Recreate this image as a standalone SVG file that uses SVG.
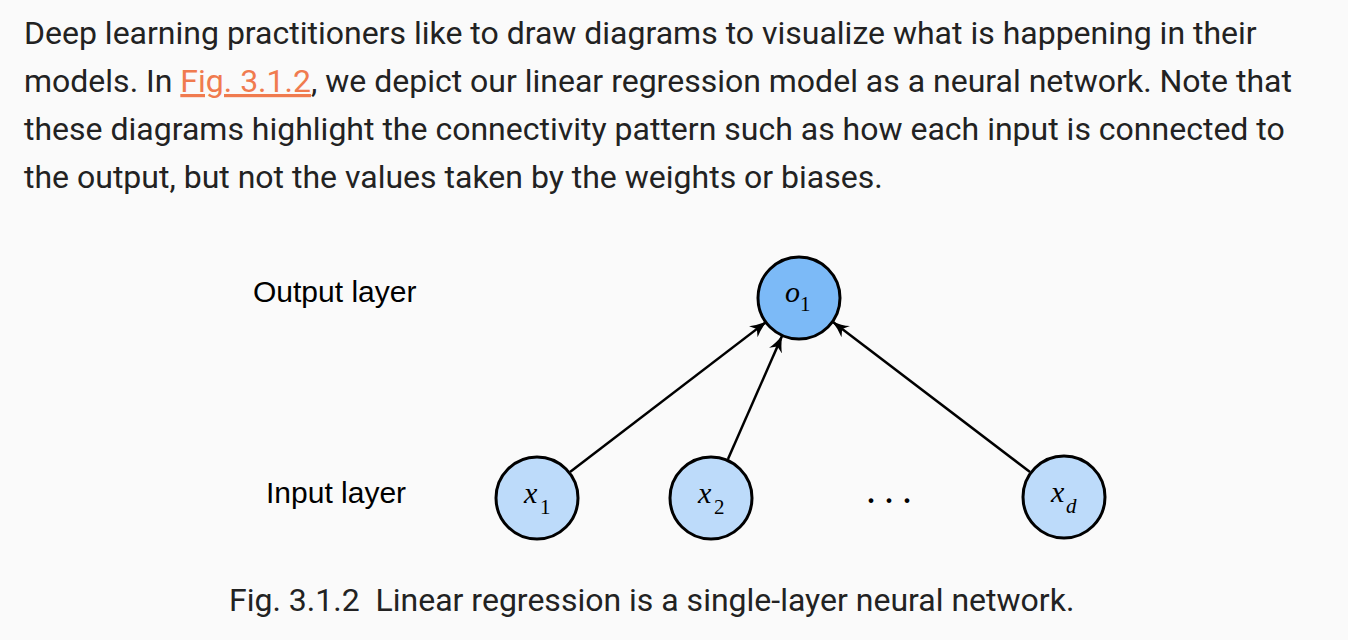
<svg xmlns="http://www.w3.org/2000/svg" width="1348" height="640" viewBox="0 0 1348 640">
<defs>
<style>
.para{font-family:Roboto,"Liberation Sans",sans-serif;font-size:32px;fill:#222222}
.link{fill:#f07b4f}
.lbl{font-family:"Liberation Sans",Arial,sans-serif;font-size:30px;fill:#000000}
.math{font-family:"Liberation Serif","Times New Roman",serif;font-style:italic;font-size:30px;fill:#000000}
.sub{font-family:"Liberation Serif","Times New Roman",serif;font-size:21px;fill:#000000}
.subi{font-family:"Liberation Serif","Times New Roman",serif;font-style:italic;font-size:21px;fill:#000000}
.dots{font-family:"Liberation Serif","Times New Roman",serif;font-size:40px;letter-spacing:8px;fill:#000000}
.out{fill:#7cbaf7;stroke:#000000;stroke-width:3}
.in{fill:#bddbfa;stroke:#000000;stroke-width:3}
.edge{stroke:#000000;stroke-width:2.5;fill:none;marker-end:url(#arrow)}
.cap{font-family:Roboto,"Liberation Sans",sans-serif;font-size:32px;fill:#222222;white-space:pre}
</style>
<marker id="arrow" viewBox="0 0 17 14" refX="16" refY="7" markerWidth="17" markerHeight="14" markerUnits="userSpaceOnUse" orient="auto">
<path d="M0,0 Q7,4.5 17,7 Q7,9.5 0,14 L4.5,7 Z" fill="#000000"/>
</marker>
</defs>
<rect width="1348" height="640" fill="#fafafa"/>
<g id="paragraph">
<text class="para" x="24" y="44">Deep learning practitioners like to draw diagrams to visualize what is happening in their</text>
<text class="para" x="24" y="92">models. In <tspan class="link" text-decoration="underline">Fig. 3.1.2</tspan>, we depict our linear regression model as a neural network. Note that</text>
<text class="para" x="24" y="140">these diagrams highlight the connectivity pattern such as how each input is connected to</text>
<text class="para" x="24" y="188">the output, but not the values taken by the weights or biases.</text>
</g>
<g id="label-output"><text class="lbl" x="253" y="302">Output layer</text></g>
<g id="label-input"><text class="lbl" x="266" y="503">Input layer</text></g>
<g id="connectors">
<line class="edge" x1="570" y1="472" x2="766" y2="322"/>
<line class="edge" x1="728" y1="459" x2="782" y2="336"/>
<line class="edge" x1="1030" y1="472" x2="833" y2="322"/>
</g>
<g id="node-o1">
<circle class="out" cx="799" cy="298" r="41"/>
<text class="math" x="785" y="302">o</text><text class="sub" x="800" y="311">1</text>
</g>
<g id="node-x1">
<circle class="in" cx="537" cy="498" r="41"/>
<text class="math" x="524" y="503">x</text><text class="sub" x="540" y="514">1</text>
</g>
<g id="node-x2">
<circle class="in" cx="711" cy="498" r="41"/>
<text class="math" x="698" y="503">x</text><text class="sub" x="714" y="514">2</text>
</g>
<g id="node-dots">
<text class="dots" x="866" y="503">...</text>
</g>
<g id="node-xd">
<circle class="in" cx="1064" cy="497" r="41"/>
<text class="math" x="1051" y="502">x</text><text class="subi" x="1066" y="513">d</text>
</g>
<g id="caption">
<text class="cap" x="229" y="611">Fig. 3.1.2  Linear regression is a single-layer neural network.</text>
</g>
</svg>
